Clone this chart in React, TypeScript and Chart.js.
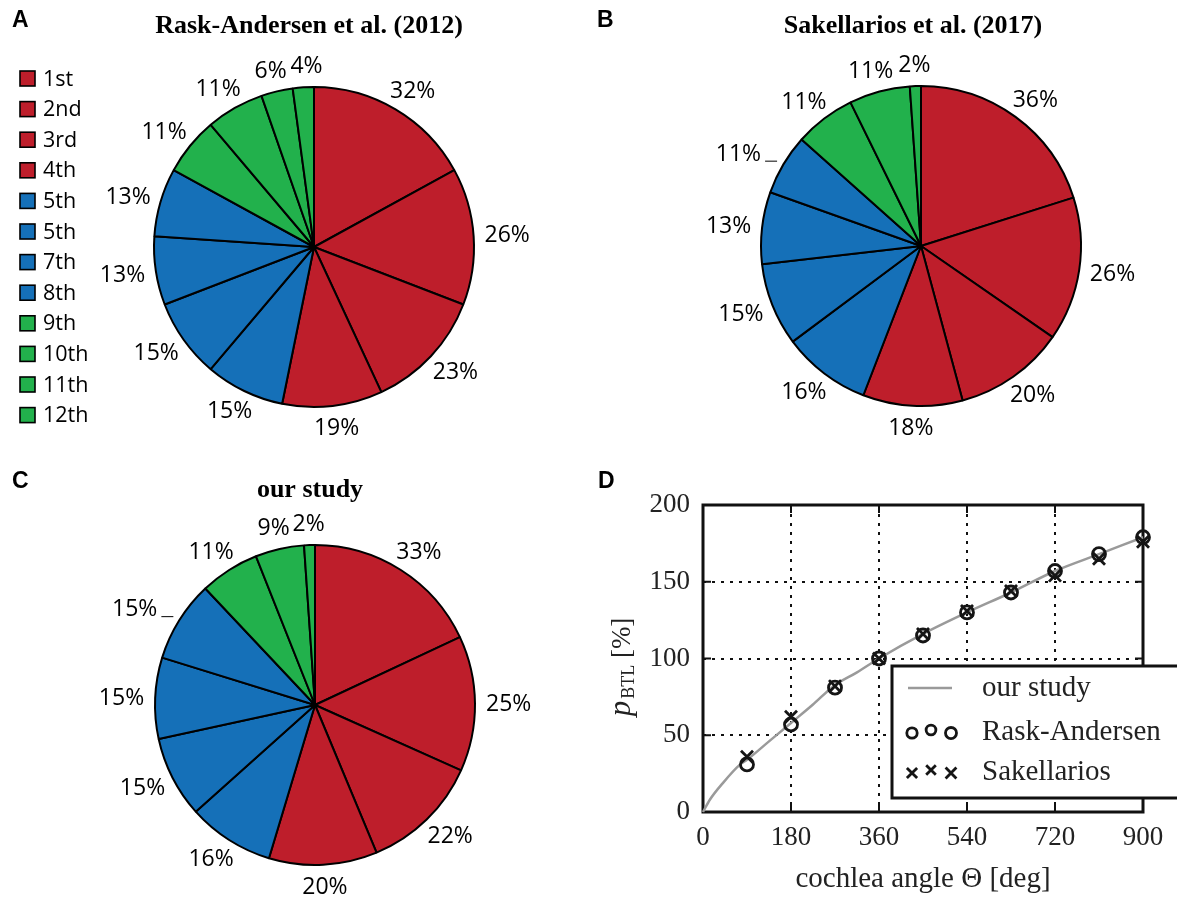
import React, { useEffect, useRef } from "react";
import { Chart, registerables } from "chart.js";

Chart.register(...registerables);

// ---------------- data ----------------
const ordinalLabels = ["1st", "2nd", "3rd", "4th", "5th", "5th", "7th", "8th", "9th", "10th", "11th", "12th"];
const RED = "#BE1E2B";
const BLUE = "#1570B8";
const GREEN = "#22B14C";
const sliceColors = [RED, RED, RED, RED, BLUE, BLUE, BLUE, BLUE, GREEN, GREEN, GREEN, GREEN];

const raskShares = [32, 26, 23, 19, 15, 15, 13, 13, 11, 11, 6, 4];
const sakShares = [36, 26, 20, 18, 16, 15, 13, 11, 11, 11, 2];
const ourShares = [33, 25, 22, 20, 16, 15, 15, 15, 11, 9, 2];

const markerAngles = [90, 180, 270, 360, 450, 540, 630, 720, 810, 900];
const raskCumulative = [31, 57, 81, 100, 115, 130, 143, 157, 168, 179];
const sakCumulative = [36, 62, 82, 100, 116, 131, 144, 154, 165, 176];
const curveAngles = [0, 14, 41, 76, 90, 135, 180, 225, 267, 315, 360, 450, 540, 630, 720, 810, 900];
const curveValues = [0, 8, 19, 31, 34, 46, 58, 70, 82, 91, 100, 116, 130, 143, 157, 168, 179];

const xTickStep = 180;
const yTickStep = 50;

// ---------------- plugins ----------------
const PIE_FONT = "23px 'Open Sans'";
const LEGEND_FONT = "21.5px 'Open Sans'";

const decoPlugin: any = {
  id: "deco",
  afterDraw(chart: any, _a: any, o: any) {
    const ctx = chart.ctx;
    ctx.save();
    ctx.fillStyle = "#000";
    ctx.textBaseline = "middle";
    if (o.letter) {
      ctx.font = "bold 23px 'Liberation Sans'";
      ctx.textAlign = "left";
      ctx.fillText(o.letter, o.letterX, o.letterY);
    }
    if (o.title) {
      ctx.font = "bold 26px 'Liberation Serif'";
      ctx.textAlign = "center";
      ctx.fillText(o.title, o.titleX, o.titleY);
    }
    ctx.restore();
  },
};

const pieLabelPlugin: any = {
  id: "pieLabels",
  afterDatasetsDraw(chart: any, _a: any, o: any) {
    const ctx = chart.ctx;
    const meta = chart.getDatasetMeta(0);
    const values = chart.data.datasets[0].data;
    const leaders = o.leaders || [];
    ctx.save();
    ctx.font = PIE_FONT;
    ctx.fillStyle = "#000";
    ctx.textAlign = "center";
    ctx.textBaseline = "middle";
    meta.data.forEach((arc: any, i: number) => {
      const p = arc.getProps(["x", "y", "startAngle", "endAngle", "outerRadius"], true);
      const mid = (p.startAngle + p.endAngle) / 2;
      const text = values[i] + "%";
      const w = ctx.measureText(text).width;
      const h = 22;
      const gap = 11;
      const c = Math.cos(mid);
      const s = Math.sin(mid);
      let cx = p.x + c * (p.outerRadius + gap) + c * w / 2;
      let cy = p.y + s * (p.outerRadius + gap) + s * h / 2;
      // the last (topmost) slice label is pushed right a little to avoid overlap
      if (i === values.length - 1 && values.length === 12) cx += 5;
      if (leaders.indexOf(i) >= 0) {
        cx -= 16;
        ctx.save();
        ctx.strokeStyle = "#000";
        ctx.lineWidth = 1;
        ctx.beginPath();
        ctx.moveTo(cx + w / 2 + 4, cy + 8);
        ctx.lineTo(cx + w / 2 + 16, cy + 8);
        ctx.stroke();
        ctx.restore();
      }
      ctx.fillText(text, cx, cy + 1);
    });
    ctx.restore();
  },
};

const sideLegendPlugin: any = {
  id: "sideLegend",
  afterDraw(chart: any, _a: any, o: any) {
    if (!o.show) return;
    const ctx = chart.ctx;
    const labels = chart.data.labels;
    const colors = chart.data.datasets[0].backgroundColor;
    ctx.save();
    ctx.font = LEGEND_FONT;
    ctx.textBaseline = "middle";
    ctx.textAlign = "left";
    labels.forEach((lab: string, i: number) => {
      const cy = o.y0 + i * o.step;
      ctx.fillStyle = colors[i];
      ctx.fillRect(o.x, cy - 7.5, 15, 15);
      ctx.lineWidth = 1.6;
      ctx.strokeStyle = "#000";
      ctx.strokeRect(o.x, cy - 7.5, 15, 15);
      ctx.fillStyle = "#000";
      ctx.fillText(lab, o.x + 23, cy + 1);
    });
    ctx.restore();
  },
};

const framePlugin: any = {
  id: "frame",
  beforeDatasetsDraw(chart: any) {
    const ctx = chart.ctx;
    const a = chart.chartArea;
    const xs = chart.scales.x;
    const ys = chart.scales.y;
    ctx.save();
    ctx.strokeStyle = "#111";
    ctx.lineWidth = 3;
    ctx.strokeRect(a.left, a.top, a.right - a.left, a.bottom - a.top);
    ctx.lineWidth = 2;
    const tl = 8;
    ctx.beginPath();
    xs.ticks.forEach((t: any) => {
      if (t.value === xs.min || t.value === xs.max) return;
      const px = xs.getPixelForValue(t.value);
      ctx.moveTo(px, a.bottom);
      ctx.lineTo(px, a.bottom - tl);
      ctx.moveTo(px, a.top);
      ctx.lineTo(px, a.top + tl);
    });
    ys.ticks.forEach((t: any) => {
      if (t.value === ys.min || t.value === ys.max) return;
      const py = ys.getPixelForValue(t.value);
      ctx.moveTo(a.left, py);
      ctx.lineTo(a.left + tl, py);
      ctx.moveTo(a.right, py);
      ctx.lineTo(a.right - tl, py);
    });
    ctx.stroke();
    ctx.restore();
  },
};

function drawCircleMarker(ctx: any, x: number, y: number, r: number) {
  ctx.beginPath();
  ctx.arc(x, y, r, 0, Math.PI * 2);
  ctx.stroke();
}
function drawCrossMarker(ctx: any, x: number, y: number, r: number) {
  const d = r * Math.SQRT1_2;
  ctx.beginPath();
  ctx.moveTo(x - d, y - d);
  ctx.lineTo(x + d, y + d);
  ctx.moveTo(x + d, y - d);
  ctx.lineTo(x - d, y + d);
  ctx.stroke();
}

const boxLegendPlugin: any = {
  id: "boxLegend",
  afterDraw(chart: any, _a: any, o: any) {
    const ctx = chart.ctx;
    ctx.save();
    ctx.fillStyle = "#fff";
    ctx.fillRect(o.x, o.y, o.w, o.h);
    ctx.lineWidth = 3;
    ctx.strokeStyle = "#111";
    ctx.strokeRect(o.x, o.y, o.w, o.h);
    ctx.font = "29px 'Liberation Serif'";
    ctx.textAlign = "left";
    ctx.textBaseline = "middle";
    chart.data.datasets.forEach((ds: any, i: number) => {
      const cy = o.y + o.rows[i];
      const sx = o.x + o.sampleX;
      ctx.strokeStyle = ds.borderColor;
      if (ds.showLine === false) {
        ctx.lineWidth = ds.pointBorderWidth;
        const r = ds.pointRadius;
        const offs = ds.pointStyle === "crossRot"
          ? [[0, 1, 0.85], [19, -2, 0.8], [39, 1, 0.9]]
          : [[0, 1, 0.8], [19, -2, 0.75], [39, 1, 0.85]];
        offs.forEach(([dx, dy, k]) => {
          if (ds.pointStyle === "crossRot") drawCrossMarker(ctx, sx + dx, cy + dy, r * k);
          else drawCircleMarker(ctx, sx + dx, cy + dy, r * k);
        });
      } else {
        ctx.lineWidth = ds.borderWidth;
        ctx.beginPath();
        ctx.moveTo(sx - 4, cy);
        ctx.lineTo(sx + 40, cy);
        ctx.stroke();
      }
      ctx.fillStyle = "#222";
      ctx.fillText(ds.label, o.x + o.textX, cy);
    });
    ctx.restore();
  },
};

const yTitlePlugin: any = {
  id: "yTitle",
  afterDraw(chart: any, _a: any, o: any) {
    const ctx = chart.ctx;
    ctx.save();
    ctx.translate(o.x, o.y);
    ctx.rotate(-Math.PI / 2);
    ctx.fillStyle = "#222";
    ctx.textBaseline = "alphabetic";
    ctx.textAlign = "left";
    const fP = "italic 31px 'Liberation Serif'";
    const fS = "18px 'Liberation Serif'";
    const fB = "27px 'Liberation Serif'";
    ctx.font = fP;
    const wP = ctx.measureText("p").width;
    ctx.font = fS;
    const wS = ctx.measureText("BTL").width;
    ctx.font = fB;
    const wB = ctx.measureText(" [%]").width;
    let x = -(wP + wS + wB + 2) / 2;
    const base = 10;
    ctx.font = fP;
    ctx.fillText("p", x, base);
    x += wP + 2;
    ctx.font = fS;
    ctx.fillText("BTL", x, base + 4);
    x += wS;
    ctx.font = fB;
    ctx.fillText(" [%]", x, base);
    ctx.restore();
  },
};

// ---------------- configs ----------------
function pieConfig(shares: number[], pad: any, deco: any, legend: any, leaders: number[]) {
  return {
    type: "pie",
    data: {
      labels: ordinalLabels.slice(0, shares.length),
      datasets: [
        {
          data: shares,
          backgroundColor: sliceColors.slice(0, shares.length),
          borderColor: "#000",
          borderWidth: 2,
        },
      ],
    },
    options: {
      animation: false,
      responsive: false,
      events: [],
      layout: { padding: pad },
      plugins: {
        legend: { display: false },
        tooltip: { enabled: false },
        deco,
        sideLegend: legend,
        pieLabels: { leaders },
      },
    },
    plugins: [pieLabelPlugin, decoPlugin, sideLegendPlugin],
  };
}

const SERIF_TICK = { family: "'Liberation Serif'", size: 27 };

function lineConfig() {
  const gridColor = (c: any) => {
    const v = c.tick && c.tick.value;
    const sc = c.scale;
    return v === sc.min || v === sc.max ? "rgba(0,0,0,0)" : "#111";
  };
  return {
    type: "line",
    data: {
      datasets: [
        {
          label: "our study",
          data: curveAngles.map((x, i) => ({ x, y: curveValues[i] })),
          borderColor: "#9a9a9a",
          borderWidth: 2.5,
          pointRadius: 0,
          cubicInterpolationMode: "monotone",
          fill: false,
          clip: false,
          order: 3,
        },
        {
          label: "Rask-Andersen",
          data: markerAngles.map((x, i) => ({ x, y: raskCumulative[i] })),
          showLine: false,
          pointStyle: "circle",
          pointRadius: 6.5,
          pointBorderWidth: 2.8,
          borderColor: "#151515",
          pointBorderColor: "#151515",
          backgroundColor: "rgba(0,0,0,0)",
          pointBackgroundColor: "rgba(0,0,0,0)",
          clip: false,
          order: 2,
        },
        {
          label: "Sakellarios",
          data: markerAngles.map((x, i) => ({ x, y: sakCumulative[i] })),
          showLine: false,
          pointStyle: "crossRot",
          pointRadius: 8.5,
          pointBorderWidth: 2.8,
          borderColor: "#151515",
          pointBorderColor: "#151515",
          backgroundColor: "rgba(0,0,0,0)",
          clip: false,
          order: 1,
        },
      ],
    },
    options: {
      animation: false,
      responsive: false,
      events: [],
      layout: { padding: { top: 45, right: 34, left: 0, bottom: 0 } },
      plugins: {
        legend: { display: false },
        tooltip: { enabled: false },
        deco: { letter: "D", letterX: 8, letterY: 22 },
        boxLegend: { x: 302, y: 206, w: 300, h: 132, rows: [22, 66, 106], sampleX: 20, textX: 90 },
        yTitle: { x: 30, y: 207 },
      },
      scales: {
        x: {
          type: "linear",
          min: 0,
          max: 900,
          ticks: { stepSize: xTickStep, font: SERIF_TICK, color: "#222", padding: 10, autoSkip: false, maxRotation: 0 },
          grid: { color: gridColor, lineWidth: 2, drawTicks: false },
          border: { display: false, dash: [3, 6] },
          title: {
            display: true,
            text: "cochlea angle \u0398 [deg]",
            font: { family: "'Liberation Serif'", size: 29 },
            color: "#222",
            padding: { top: 0, bottom: 10 },
          },
          afterFit: (s: any) => {
            s.height = 95;
          },
        },
        y: {
          type: "linear",
          min: 0,
          max: 200,
          ticks: { stepSize: yTickStep, font: SERIF_TICK, color: "#222", padding: 13 },
          grid: { color: gridColor, lineWidth: 2, drawTicks: false },
          border: { display: false, dash: [3, 6] },
          afterFit: (s: any) => {
            s.width = 113;
          },
        },
      },
    },
    plugins: [framePlugin, decoPlugin, boxLegendPlugin, yTitlePlugin],
  };
}

// ---------------- components ----------------
function ChartCanvas({ left, top, width, height, make }: any) {
  const ref = useRef<HTMLCanvasElement | null>(null);
  useEffect(() => {
    const chart = new Chart(ref.current as HTMLCanvasElement, make());
    return () => chart.destroy();
  }, []);
  return (
    <canvas
      ref={ref}
      width={width}
      height={height}
      style={{ position: "absolute", left, top, width, height, display: "block" }}
    />
  );
}

export default function App() {
  return (
    <div style={{ position: "absolute", left: 0, top: 0, width: 1177, height: 907, background: "#fff", overflow: "hidden" }}>
      <ChartCanvas
        left={0}
        top={0}
        width={590}
        height={460}
        make={() =>
          pieConfig(
            raskShares,
            { left: 153, top: 86, right: 115, bottom: 52 },
            { letter: "A", letterX: 12, letterY: 21, title: "Rask-Andersen et al. (2012)", titleX: 309, titleY: 26 },
            { show: true, x: 20, y0: 78.5, step: 30.6 },
            []
          )
        }
      />
      <ChartCanvas
        left={590}
        top={0}
        width={587}
        height={460}
        make={() =>
          pieConfig(
            sakShares,
            { left: 170, top: 85, right: 95, bottom: 53 },
            { letter: "B", letterX: 7, letterY: 21, title: "Sakellarios et al. (2017)", titleX: 323, titleY: 26 },
            { show: false },
            [7]
          )
        }
      />
      <ChartCanvas
        left={0}
        top={460}
        width={590}
        height={447}
        make={() =>
          pieConfig(
            ourShares,
            { left: 154, top: 84, right: 114, bottom: 41 },
            { letter: "C", letterX: 12, letterY: 22, title: "our study", titleX: 310, titleY: 30 },
            { show: false },
            [7]
          )
        }
      />
      <ChartCanvas left={590} top={460} width={587} height={447} make={lineConfig} />
    </div>
  );
}
